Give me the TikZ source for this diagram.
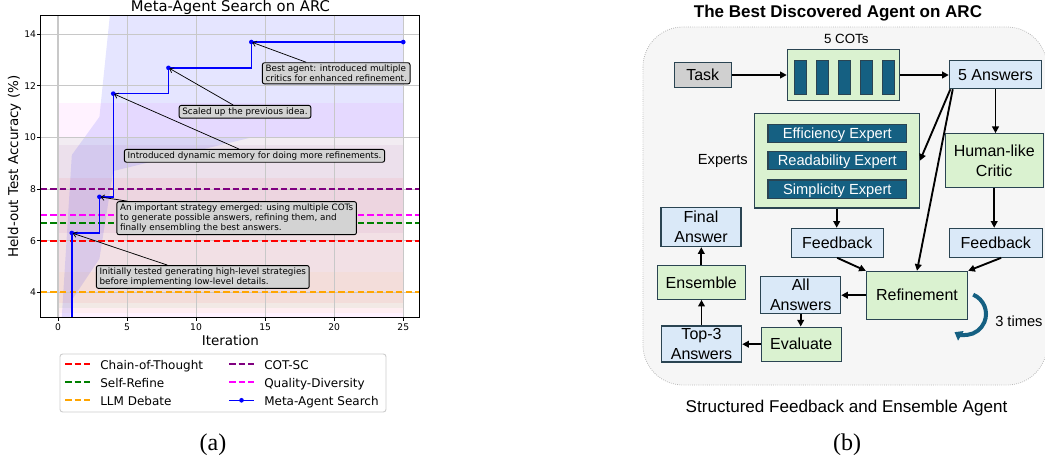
\documentclass[tikz,border=0pt]{standalone}
\usepackage{fontspec}
\setmainfont{DejaVu Sans}
\newfontfamily\dvs{DejaVu Sans}
\newfontfamily\lsans{Liberation Sans}
\newfontfamily\lserif{Liberation Serif}
\usetikzlibrary{arrows.meta}
\definecolor{mplred}{RGB}{255,0,0}
\definecolor{mplgreen}{RGB}{0,128,0}
\definecolor{mplorange}{RGB}{255,165,0}
\definecolor{mplpurple}{RGB}{128,0,128}
\definecolor{mplmag}{RGB}{255,0,255}
\definecolor{mplblue}{RGB}{0,0,255}
\definecolor{gridgray}{RGB}{200,200,200}
\definecolor{annfill}{RGB}{211,211,211}
\definecolor{legbdr}{RGB}{204,204,204}
\definecolor{bdr}{RGB}{42,68,82}
\definecolor{lgreen}{RGB}{218,242,208}
\definecolor{lblue}{RGB}{218,233,248}
\definecolor{tgray}{RGB}{208,208,208}
\definecolor{dteal}{RGB}{21,96,130}
\definecolor{outerbg}{RGB}{246,246,246}
\definecolor{outerbdr}{RGB}{185,185,185}
\begin{document}
\begin{tikzpicture}[x=0.75pt,y=-0.75pt,
 annot/.style={draw=black, line width=0.7pt, fill=annfill, rounded corners=1.6pt, align=left, inner xsep=2.4pt, inner ysep=1.6pt, font=\dvs\fontsize{6.6}{7.6}\selectfont},
 annarrow/.style={-{Straight Barb[length=2.6pt,width=4.2pt]}, line width=0.55pt, shorten >=0.8pt},
 blline/.style={line width=1.5pt, dash pattern=on 4.9pt off 2.3pt},
 ticklab/.style={inner sep=0pt, font=\dvs\fontsize{6.9}{8}\selectfont},
 legtext/.style={anchor=base west, inner sep=0pt, font=\dvs\fontsize{9}{10}\selectfont},
 dbox/.style={draw=bdr, line width=0.8pt, inner sep=0pt, align=center, font=\lsans\fontsize{12}{15}\selectfont},
 one/.style={text height=8.6pt, text depth=0pt},
 gbox/.style={dbox, fill=lgreen},
 bbox/.style={dbox, fill=lblue},
 ebar/.style={draw=bdr, line width=0.8pt, fill=dteal, text=white, inner sep=0pt, minimum width=104pt, minimum height=13.8pt, text height=7.9pt, text depth=0pt, font=\lsans\fontsize{11}{13}\selectfont},
 cotbar/.style={draw=bdr, line width=0.6pt, fill=dteal, minimum width=9.4pt, minimum height=25.5pt, inner sep=0pt},
 darr/.style={line width=1.4pt, -{Triangle[length=5pt,width=5pt]}},
 plain/.style={inner sep=0pt, font=\lsans\fontsize{11}{13}\selectfont},
 band/.style={opacity=0.05}
]
\useasboundingbox (0,0) rectangle (1045,459);

% ================= (a) chart =================
\node[anchor=base, inner sep=0pt, font=\dvs\fontsize{11.1}{13}\selectfont] (atitle) at (230.4,11.5) {Meta-Agent Search on ARC};
\begin{scope}[shift={(58,395.5)},x=10.3575pt,y=19.35pt]
 \coordinate (axsw) at (-1.25,3.02);
 \coordinate (axne) at (26.21,14.72);
 \begin{scope}
  \clip (axsw) rectangle (axne);
  \fill[mplmag, band] (0,2.66) rectangle (25,11.34);
  \fill[mplgreen, band] (0,3.4) rectangle (25,10.0);
  \fill[mplpurple, band] (0,6.3) rectangle (25,9.7);
  \fill[mplred, band] (0,3.57) rectangle (25,8.43);
  \fill[mplorange, band] (0,3.2) rectangle (25,4.8);
  \fill[mplblue, opacity=0.1] (0,0.66) -- (1,9.32) -- (3,10.8) -- (4,16) -- (25,16) -- (25,10) -- (14,10) -- (4,8.7) -- (3,5.3) -- (1,3.7) -- (0,-1) -- cycle;
  \foreach \v in {0,5,...,25} \draw[gridgray, line width=0.8pt] (\v,3.02) -- (\v,14.72);
  \foreach \v in {4,6,...,14} \draw[gridgray, line width=0.8pt] (-1.25,\v) -- (26.21,\v);
  \draw[blline, mplpurple] (-1.25,8) -- (26.21,8);
  \draw[blline, mplmag] (-1.25,7) -- (26.21,7);
  \draw[blline, mplgreen] (-1.25,6.7) -- (26.21,6.7);
  \draw[blline, mplred] (-1.25,6) -- (26.21,6);
  \draw[blline, mplorange] (-1.25,4) -- (26.21,4);
  \draw[mplblue, line width=1.1pt] (1,2) -- (1,6.3) -- (3,6.3) -- (3,7.7) -- (4,7.7) -- (4,11.7) -- (8,11.7) -- (8,12.7) -- (14,12.7) -- (14,13.7) -- (25,13.7);
 \end{scope}
 \coordinate (p1) at (1,6.3);
 \coordinate (p2) at (3,7.7);
 \coordinate (p3) at (4,11.7);
 \coordinate (p4) at (8,12.7);
 \coordinate (p5) at (14,13.7);
 \coordinate (p6) at (25,13.7);
 \foreach \p in {p1,p2,p3,p4,p5,p6} \fill[mplblue] (\p) circle (1.75pt);
 \draw[line width=0.8pt] (axsw) rectangle (axne);
 \foreach \v in {4,6,...,14} \draw[line width=0.7pt] (-1.25,\v) -- ++(-2.6pt,0pt) node[ticklab, anchor=east, xshift=-0.6pt] {\v};
 \foreach \v in {0,5,...,25} \draw[line width=0.7pt] (\v,3.02) -- ++(0pt,-2.6pt);
\end{scope}
\foreach \v in {0,5,...,25} \node[ticklab, anchor=base] at ({58+13.81*\v},330.7) {\v};
\node[anchor=base, inner sep=0pt, font=\dvs\fontsize{10.1}{12}\selectfont] (xlab) at (230.4,345.7) {Iteration};
\node[rotate=90, inner sep=0pt, font=\dvs\fontsize{10.1}{12}\selectfont] (ylab) at (14.5,166.7) {Held-out Test Accuracy (\%)};

% annotations
\node[annot] (n5) at (202.8,277) {Initially tested generating high-level strategies\\before implementing low-level details.};
\node[annot] (n4) at (236.65,218.15) {An important strategy emerged: using multiple COTs\\to generate possible answers, refining them, and\\finally ensembling the best answers.};
\node[annot] (n3) at (254.5,155.85) {Introduced dynamic memory for doing more refinements.};
\node[annot] (n2) at (245,111.8) {Scaled up the previous idea.};
\node[annot] (n1) at (336.2,73.35) {Best agent: introduced multiple\\critics for enhanced refinement.};
\draw[annarrow] (n5) -- (p1);
\draw[annarrow] (n4) -- (p2);
\draw[annarrow] (n3) -- (p3);
\draw[annarrow] (n2) -- (p4);
\draw[annarrow] (n1) -- (p5);

% legend
\draw[legbdr, fill=white, rounded corners=2pt, line width=0.7pt] (60,354) rectangle (386,412);
\draw[blline, mplred] (65,364.3) -- (90,364.3);
\node[legtext] (l1) at (100,369) {Chain-of-Thought};
\draw[blline, mplgreen] (65,382.3) -- (90,382.3);
\node[legtext] (l2) at (100,387) {Self-Refine};
\draw[blline, mplorange] (65,400.3) -- (90,400.3);
\node[legtext] (l3) at (100,405) {LLM Debate};
\draw[blline, mplpurple] (229,364.3) -- (254,364.3);
\node[legtext] (l4) at (264,369) {COT-SC};
\draw[blline, mplmag] (229,382.3) -- (254,382.3);
\node[legtext] (l5) at (264,387) {Quality-Diversity};
\draw[mplblue, line width=1.1pt] (229,400.3) -- (254,400.3);
\fill[mplblue] (241.5,400.3) circle (1.75pt);
\node[legtext] (l6) at (264,405) {Meta-Agent Search};

\node[anchor=base, inner sep=0pt, font=\lserif\fontsize{18}{20}\selectfont] (capa) at (213,450.5) {(a)};

% ================= (b) diagram =================
\draw[outerbdr, densely dotted, line width=0.6pt, fill=outerbg, rounded corners=30pt] (643,27) rectangle (1047,385);
\node[anchor=base, inner sep=0pt, font=\lsans\bfseries\fontsize{12.75}{15}\selectfont] (btitle) at (838,17.8) {The Best Discovered Agent on ARC};

\node[anchor=base, inner sep=0pt, font=\lsans\fontsize{10}{12}\selectfont] (cotlab) at (846.3,43.7) {5 COTs};
\node[gbox, minimum width=84pt, minimum height=38.5pt] (cots) at (843.3,75) {};
\foreach \i/\x in {1/800.3,2/822.4,3/844.4,4/866.5,5/888.6} \node[cotbar] (bar\i) at (\x,77.7) {};
\node[dbox, one, fill=tgray, minimum width=42.5pt, minimum height=19pt] (task) at (702.7,75) {Task};
\node[bbox, one, minimum width=69.3pt, minimum height=21.3pt] (ans5) at (995.5,74.5) {5 Answers};

\node[gbox, minimum width=124pt, minimum height=71pt] (experts) at (836.7,160.7) {};
\node[ebar] (eff) at (837.3,133.5) {Efficiency Expert};
\node[ebar] (read) at (837.3,160.5) {Readability Expert};
\node[ebar] (simp) at (837.3,189.2) {Simplicity Expert};
\node[plain, anchor=base] (explab) at (722.8,164.7) {Experts};

\node[gbox, minimum width=73.7pt, minimum height=40.5pt] (critic) at (994.2,160.7) {Human-like\\Critic};
\node[bbox, one, minimum width=69.2pt, minimum height=21.75pt] (fb1) at (837.2,242.8) {Feedback};
\node[bbox, one, minimum width=69.75pt, minimum height=21.75pt] (fb2) at (995.8,242.8) {Feedback};
\node[gbox, one, minimum width=76pt, minimum height=35.8pt] (refine) at (917,295.2) {Refinement};
\node[bbox, minimum width=60pt, minimum height=27.75pt] (allans) at (800.7,295.2) {All\\Answers};
\node[gbox, one, minimum width=60.2pt, minimum height=25.7pt] (evaluate) at (801.2,344.2) {Evaluate};
\node[bbox, minimum width=60.3pt, minimum height=27pt] (top3) at (701.5,344) {Top-3\\Answers};
\node[gbox, one, minimum width=66pt, minimum height=25.5pt] (ensemble) at (701.3,282.3) {Ensemble};
\node[bbox, minimum width=60pt, minimum height=29.25pt] (final) at (701,227.2) {Final\\Answer};

\draw[darr] (task) -- (cots);
\draw[darr] (cots.east) -- (cots.east -| ans5.west);
\draw[darr] (ans5.south) -- (ans5.south |- critic.north);
\draw[darr] ([xshift=1.2pt]ans5.south west) -- (experts.east);
\draw[darr] ([xshift=3pt]ans5.south west) -- (refine.north);
\draw[darr] (critic.south) -- (critic.south |- fb2.north);
\draw[darr] (experts.south) -- (experts.south |- fb1.north);
\draw[darr] (fb1.south) -- (refine.north west);
\draw[darr] ([xshift=4pt]fb2.south) -- (refine.north east);
\draw[darr] (refine.west) -- (refine.west -| allans.east);
\draw[darr] (allans.south) -- (allans.south |- evaluate.north);
\draw[darr] (evaluate.west) -- (evaluate.west -| top3.east);
\draw[darr] (top3.north) -- (top3.north |- ensemble.south);
\draw[darr] (ensemble.north) -- (ensemble.north |- final.south);

\coordinate (loopc) at (965,314);
\draw[dteal, line width=3pt, -{Triangle[length=5.5pt,width=8pt]}] ([shift={(67:15.75pt)}]loopc) arc[start angle=67, end angle=-120, radius=15.75pt];
\node[plain, anchor=base west] (times) at (995,326.7) {3 times};

\node[anchor=base, inner sep=0pt, font=\lsans\fontsize{12.8}{15}\selectfont] (bcap) at (846.5,412.3) {Structured Feedback and Ensemble Agent};
\node[anchor=base, inner sep=0pt, font=\lserif\fontsize{18}{20}\selectfont] (capb) at (847,450.5) {(b)};
\end{tikzpicture}
\end{document}
